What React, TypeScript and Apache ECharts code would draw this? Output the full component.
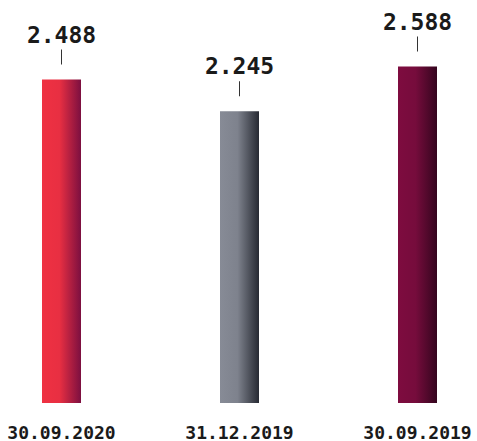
import React, { useEffect, useRef } from "react";
import * as echarts from "echarts";

const categories = ["30.09.2020", "31.12.2019", "30.09.2019"];
const values = [2.488, 2.245, 2.588];
const gradients = [
  ["#ef3142", "#e82f42", "#7c0f40"],
  ["#878b96", "#7e828d", "#272a33"],
  ["#7e0c3f", "#760c3c", "#34051e"],
];

export default function App() {
  const ref = useRef<HTMLDivElement>(null);
  useEffect(() => {
    const chart = echarts.init(ref.current!, null, { renderer: "svg" });
    const font = "'DejaVu Sans Mono', 'Liberation Mono', monospace";
    chart.setOption({
      animation: false,
      grid: { left: 61.5, right: 59.5, top: 13, bottom: 37, containLabel: false },
      xAxis: {
        type: "category",
        data: categories,
        boundaryGap: false,
        axisLine: { show: false },
        axisTick: { show: false },
        axisLabel: {
          color: "#1a1a1a",
          fontFamily: font,
          fontWeight: "bold",
          fontSize: 18,
          margin: 20,
        },
      },
      yAxis: {
        type: "value",
        min: 0,
        max: 3,
        show: false,
        splitLine: { show: false },
      },
      series: [
        {
          type: "bar",
          barWidth: 39,
          clip: false,
          data: values.map((v, i) => ({
            value: v,
            itemStyle: {
              color: new echarts.graphic.LinearGradient(0, 0, 1, 0, [
                { offset: 0, color: gradients[i][0] },
                { offset: 0.45, color: gradients[i][1] },
                { offset: 1, color: gradients[i][2] },
              ]),
            },
          })),
          label: {
            show: true,
            position: "top",
            distance: 15,
            formatter: (p: any) => "{v|" + p.value.toFixed(3) + "}\n{l|}",
            rich: {
              v: {
                fontFamily: font,
                fontWeight: "bold",
                fontSize: 23,
                color: "#1a1a1a",
                lineHeight: 30,
                align: "center",
              },
              l: {
                width: 1,
                height: 15,
                backgroundColor: "#333",
                align: "center",
              },
            },
          },
        },
      ],
    });
    return () => chart.dispose();
  }, []);
  return <div ref={ref} style={{ width: 477, height: 441, position: "absolute", left: 0, top: 0 }} />;
}
